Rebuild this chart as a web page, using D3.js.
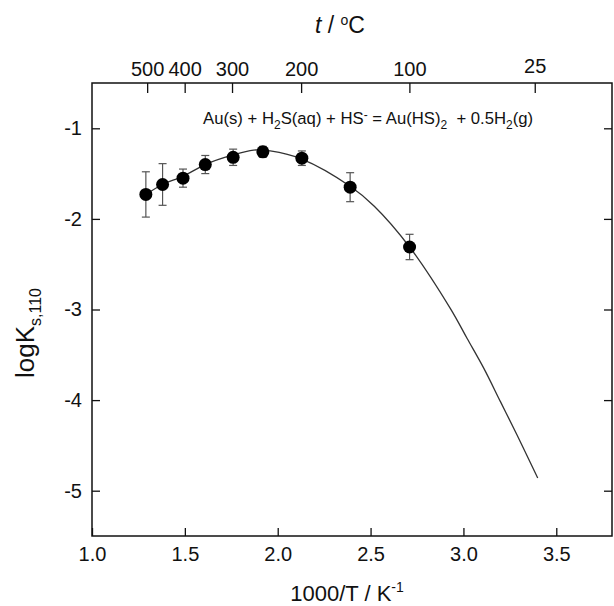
<!DOCTYPE html>
<html lang="en">
  <head>
    <meta charset="utf-8">
    <title>logK vs 1000/T</title>
    <script src="https://d3js.org/d3.v7.js"></script>
    <style>
      body { margin: 0; background: #fff; overflow: hidden; }
      svg { display: block; }
      text { font-family: "Liberation Sans", Arial, sans-serif; fill: #111; }
    </style>
  </head>

  <body>
    <svg></svg>

  <script>

// data

  var tempC   = [500, 450, 400, 350, 300, 250, 200, 150, 100];
  var invT    = [1.29, 1.38, 1.49, 1.61, 1.76, 1.92, 2.13, 2.39, 2.71];
  var logK    = [-1.73, -1.62, -1.55, -1.40, -1.32, -1.26, -1.33, -1.65, -2.31];
  var logKErr = [0.25, 0.23, 0.10, 0.10, 0.09, 0.06, 0.08, 0.16, 0.14];

  // fitted curve
  var fitX = [1.29, 1.38, 1.49, 1.61, 1.75, 1.87, 1.96, 2.13, 2.39, 2.52, 2.71, 2.93, 3.02, 3.11, 3.20, 3.29, 3.40];
  var fitY = [-1.73, -1.62, -1.53, -1.40, -1.30, -1.24, -1.25, -1.34, -1.64, -1.86, -2.31, -2.99, -3.32, -3.65, -4.02, -4.39, -4.86];

  // top axis (temperature)
  var topTickLabels = ["500", "400", "300", "200", "100", "25"];
  var topTickPos    = [1.297, 1.499, 1.754, 2.126, 2.709, 3.384];

  var xTicks = [1.0, 1.5, 2.0, 2.5, 3.0, 3.5];
  var yTicks = [-1, -2, -3, -4, -5];

  var w = 614;
  var h = 606;
  var margin = {top: 83, right: 2, bottom: 70, left: 92};
  var innerWidth = w - margin.left - margin.right;
  var innerHeight = h - margin.top - margin.bottom;

  var svg = d3.select("svg")
      .attr("width", w)
      .attr("height", h);

  var xScale = d3.scaleLinear()
      .domain([1.0, 3.8])
      .range([0, innerWidth]);

  var yScale = d3.scaleLinear()
      .domain([-5.5, -0.5])
      .range([innerHeight, 0]);

  var g = svg.append("g")
      .attr("transform", `translate(${margin.left}, ${margin.top})`);

// axes, ticks point inward

  var xAxis = d3.axisBottom(xScale)
      .tickValues(xTicks)
      .tickFormat(d3.format(".1f"))
      .tickSizeInner(-8)
      .tickSizeOuter(0)
      .tickPadding(11);

  var yAxis = d3.axisLeft(yScale)
      .tickValues(yTicks)
      .tickFormat(d => d.toString())
      .tickSizeInner(-8)
      .tickSizeOuter(0)
      .tickPadding(10);

  var yAxisRight = d3.axisRight(yScale)
      .tickValues(yTicks)
      .tickFormat("")
      .tickSizeInner(-8)
      .tickSizeOuter(0);

  var topAxis = d3.axisTop(xScale)
      .tickValues(topTickPos)
      .tickFormat((d, i) => topTickLabels[i])
      .tickSizeInner(-10)
      .tickSizeOuter(0)
      .tickPadding(7);

  g.append("g")
      .attr("class", "xAxis")
      .attr("transform", `translate(0, ${innerHeight})`)
      .call(xAxis);

  g.append("g")
      .attr("class", "yAxis")
      .call(yAxis);

  g.append("g")
      .attr("class", "yAxisRight")
      .attr("transform", `translate(${innerWidth}, 0)`)
      .call(yAxisRight);

  g.append("g")
      .attr("class", "topAxis")
      .call(topAxis);

  g.selectAll(".domain").remove();
  g.selectAll(".tick line").attr("stroke", "#111").attr("stroke-width", 1.3);
  g.selectAll(".tick text")
      .attr("font-size", 20)
      .attr("font-family", "Liberation Sans, Arial, sans-serif")
      .attr("fill", "#111");

  // the 25 label sits a little higher in the original
  g.select(".topAxis").selectAll(".tick text")
      .filter((d, i) => topTickLabels[i] === "25")
      .attr("dy", "-0.15em");

  // frame
  g.append("rect")
      .attr("x", 0)
      .attr("y", 0)
      .attr("width", innerWidth)
      .attr("height", innerHeight)
      .attr("fill", "none")
      .attr("stroke", "#111")
      .attr("stroke-width", 1.5);

// fitted curve

  var fitData = fitX.map((x, i) => ({x: x, y: fitY[i]}));

  var line = d3.line()
      .x(d => xScale(d.x))
      .y(d => yScale(d.y))
      .curve(d3.curveCatmullRom);

  g.append("path")
      .datum(fitData)
      .attr("d", line)
      .attr("fill", "none")
      .attr("stroke", "#333")
      .attr("stroke-width", 1.3);

// points with error bars

  var pts = invT.map((x, i) => ({x: x, y: logK[i], e: logKErr[i], t: tempC[i]}));
  var cap = 4;

  var err = g.append("g").attr("stroke", "#555").attr("stroke-width", 1.2);

  err.selectAll("line.v")
      .data(pts)
      .enter().append("line")
      .attr("class", "v")
      .attr("x1", d => xScale(d.x))
      .attr("x2", d => xScale(d.x))
      .attr("y1", d => yScale(d.y + d.e))
      .attr("y2", d => yScale(d.y - d.e));

  err.selectAll("line.top")
      .data(pts)
      .enter().append("line")
      .attr("class", "top")
      .attr("x1", d => xScale(d.x) - cap)
      .attr("x2", d => xScale(d.x) + cap)
      .attr("y1", d => yScale(d.y + d.e))
      .attr("y2", d => yScale(d.y + d.e));

  err.selectAll("line.bot")
      .data(pts)
      .enter().append("line")
      .attr("class", "bot")
      .attr("x1", d => xScale(d.x) - cap)
      .attr("x2", d => xScale(d.x) + cap)
      .attr("y1", d => yScale(d.y - d.e))
      .attr("y2", d => yScale(d.y - d.e));

  g.selectAll("circle")
      .data(pts)
      .enter().append("circle")
      .attr("cx", d => xScale(d.x))
      .attr("cy", d => yScale(d.y))
      .attr("r", 6.5)
      .attr("fill", "#000");

// reaction label

  var eq = g.append("text")
      .attr("x", 111)
      .attr("y", 41)
      .attr("font-size", 16.7);

  var parts = [
    ["Au(s) + H", 0], ["2", 1], ["S(aq) + HS", 0], ["-", -1],
    [" = Au(HS)", 0], ["2", 1], ["\u00a0\u00a0+ 0.5H", 0], ["2", 1], ["(g)", 0]
  ];
  var shift = 0;
  parts.forEach(p => {
    var target = p[1] * 5;
    eq.append("tspan")
        .attr("dy", target - shift)
        .attr("font-size", p[1] === 0 ? 16.7 : 12)
        .text(p[0].replace(/^ /, "\u00a0"));
    shift = target;
  });

// axis titles

  var xt = svg.append("text")
      .attr("x", 347)
      .attr("y", 601)
      .attr("text-anchor", "middle")
      .attr("font-size", 22);
  xt.append("tspan").text("1000/T / K");
  xt.append("tspan").attr("dy", -9).attr("font-size", 14).text("-1");

  var tt = svg.append("text")
      .attr("x", 340)
      .attr("y", 33)
      .attr("text-anchor", "middle")
      .attr("font-size", 23);
  tt.append("tspan").attr("font-style", "italic").text("t");
  tt.append("tspan").text(" / ");
  tt.append("tspan").attr("dy", -8).attr("font-size", 14).text("o");
  tt.append("tspan").attr("dy", 8).text("C");

  var yt = svg.append("text")
      .attr("transform", "translate(34, 333) rotate(-90)")
      .attr("text-anchor", "middle")
      .attr("font-size", 26);
  yt.append("tspan").text("logK");
  yt.append("tspan").attr("dy", 7).attr("font-size", 16).text("s,110");

    </script>

  </body>

</html>
